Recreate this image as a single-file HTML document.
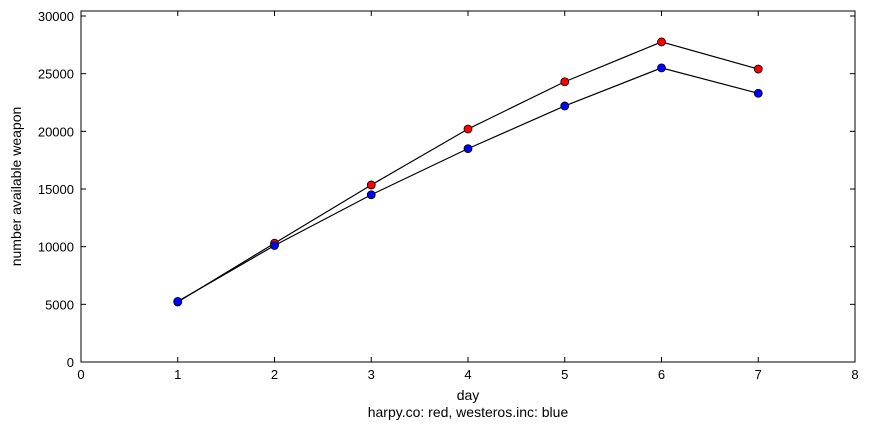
<!DOCTYPE html>
<html><head><meta charset="utf-8"><style>
html,body{margin:0;padding:0;background:#fff;}
svg{display:block;font-family:"Liberation Sans",sans-serif;}
</style></head><body>
<svg id="chart" width="869" height="429" xmlns="http://www.w3.org/2000/svg"></svg>
<script>
const days = [1,2,3,4,5,6,7];
const harpyValues = [5200,10300,15350,20200,24300,27750,25400];
const westerosValues = [5250,10100,14500,18500,22200,25500,23300];
const xTicks = [0,1,2,3,4,5,6,7,8];
const yTicks = [0,5000,10000,15000,20000,25000,30000];

const L=81,R=855,T=11,B=362,XMAX=8,YMAX=30433;
const sx=v=>L+(v/XMAX)*(R-L);
const sy=v=>B-(v/YMAX)*(B-T);
const svg=document.getElementById('chart');
const NS='http://www.w3.org/2000/svg';
function mk(tag,attrs,parent){const e=document.createElementNS(NS,tag);for(const k in attrs)e.setAttribute(k,attrs[k]);(parent||svg).appendChild(e);return e;}

const frame=mk('rect',{x:L,y:T,width:R-L,height:B-T,fill:'#fff',stroke:'#000','stroke-width':1});



xTicks.forEach(t=>{
  const x=sx(t);
  mk('line',{x1:x,y1:B,x2:x,y2:B-5,stroke:'#000'});
  mk('line',{x1:x,y1:T,x2:x,y2:T+5,stroke:'#000'});
  const tx=mk('text',{x:x,y:B+17,'text-anchor':'middle','font-size':13});
  tx.textContent=t;
  
  
});
yTicks.forEach(t=>{
  const y=sy(t);
  mk('line',{x1:L,y1:y,x2:L+5,y2:y,stroke:'#000'});
  mk('line',{x1:R,y1:y,x2:R-5,y2:y,stroke:'#000'});
  const tx=mk('text',{x:L-7,y:y+5,'text-anchor':'end','font-size':13});
  tx.textContent=t;
  
  
});

function series(vals,color,name){
  const pl=mk('polyline',{points:days.map((d,i)=>sx(d)+','+sy(vals[i])).join(' '),fill:'none',stroke:'#000','stroke-width':1.2});
  
  
  days.forEach((d,i)=>{
    const c=mk('circle',{cx:sx(d),cy:sy(vals[i]),r:4,fill:color,stroke:'#000','stroke-width':0.8});
    
    
  });
}
series(harpyValues,'#ff0000','harpy');
series(westerosValues,'#0000ff','westeros');

const xl=mk('text',{x:(L+R)/2,y:400,'text-anchor':'middle','font-size':14});
xl.textContent='day';


const cap=mk('text',{x:(L+R)/2,y:417,'text-anchor':'middle','font-size':14});
cap.textContent='harpy.co: red, westeros.inc: blue';


const yl=mk('text',{x:0,y:0,'text-anchor':'middle','font-size':14,transform:'translate(21,'+((T+B)/2)+') rotate(-90)'});
yl.textContent='number available weapon';


</script>
</body></html>
